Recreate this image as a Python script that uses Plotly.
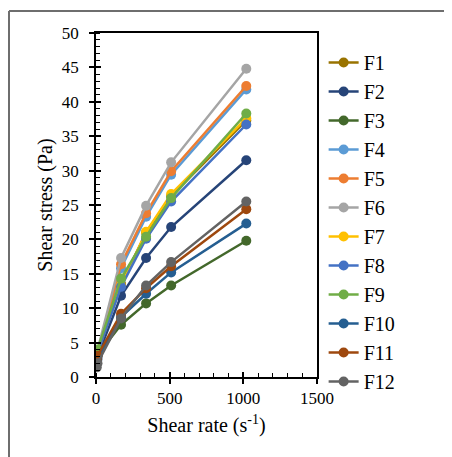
import plotly.graph_objects as go

shear_rate = [5.1, 10.2, 170, 340, 510, 1020]

series_names = ["F1", "F2", "F3", "F4", "F5", "F6", "F7", "F8", "F9", "F10", "F11", "F12"]

F1 = [2.9, 3.4, 13.5, 21.0, 26.3, 37.3]
F2 = [2.4, 3.0, 11.8, 17.3, 21.8, 31.5]
F3 = [2.6, 3.2, 7.6, 10.7, 13.3, 19.8]
F4 = [3.0, 3.6, 15.8, 23.3, 29.4, 41.8]
F5 = [2.8, 3.5, 16.4, 23.8, 29.9, 42.3]
F6 = [3.2, 3.9, 17.3, 24.9, 31.2, 44.8]
F7 = [3.0, 3.6, 13.3, 21.1, 26.6, 37.6]
F8 = [2.9, 3.5, 13.1, 20.1, 25.5, 36.7]
F9 = [3.3, 4.0, 14.3, 20.4, 26.0, 38.3]
F10 = [2.0, 2.6, 8.7, 12.1, 15.2, 22.3]
F11 = [2.5, 3.1, 9.2, 12.9, 16.1, 24.4]
F12 = [1.4, 2.0, 8.5, 13.3, 16.7, 25.5]

series_values = [F1, F2, F3, F4, F5, F6, F7, F8, F9, F10, F11, F12]

colors = ["#997300", "#264478", "#43682B", "#5B9BD5", "#ED7D31", "#A5A5A5",
          "#FFC000", "#4472C4", "#70AD47", "#255E91", "#9E480E", "#636363"]

x_ticks = [0, 500, 1000, 1500]
y_ticks = [0, 5, 10, 15, 20, 25, 30, 35, 40, 45, 50]

FONT = "Liberation Serif"

fig = go.Figure()
for i, (name, vals) in enumerate(zip(series_names, series_values)):
    fig.add_trace(go.Scatter(
        x=shear_rate, y=vals, name=name, mode="lines+markers",
        line=dict(color=colors[i], width=2.5),
        marker=dict(color=colors[i], size=10),
    ))

# dummy trace for overlay axes (inside half of crossing major ticks)
fig.add_trace(go.Scatter(x=[None], y=[None], xaxis="x2", yaxis="y2",
                         showlegend=False, hoverinfo="skip", mode="lines"))

# page body has an 8px margin: figure occupies window from (8, 8)
OFF = 8
W, H = 452 - OFF, 457 - OFF
L, R, T, B = 96 - OFF, 452 - 317, 33 - OFF, 457 - 377
pw = W - L - R
ph = H - T - B

fig.update_layout(
    width=W, height=H,
    margin=dict(l=L, r=R, t=T, b=B, autoexpand=False),
    paper_bgcolor="white", plot_bgcolor="white",
    font=dict(family=FONT, color="#000000"),
    showlegend=True,
    legend=dict(
        x=1.03, xanchor="left", y=1.0 - (35 - T) / ph, yanchor="top",
        font=dict(family=FONT, size=20, color="#000000"),
        traceorder="normal", itemwidth=30, bgcolor="rgba(0,0,0,0)",
        maxheight=440,
    ),
    xaxis=dict(
        range=[0, 1500], tickvals=x_ticks, ticks="outside", ticklen=5, tickwidth=1.5,
        tickcolor="#000000", showline=True, linecolor="#000000", linewidth=1.5,
        mirror=True, showgrid=False, zeroline=False,
        tickfont=dict(family=FONT, size=17, color="#000000"),
        minor=dict(dtick=100, ticks="inside", ticklen=4, tickwidth=1.2, tickcolor="#000000", showgrid=False),
        title=dict(text="Shear rate (s<sup>-1</sup>)", font=dict(family=FONT, size=20, color="#000000"), standoff=11),
        automargin=False,
    ),
    yaxis=dict(
        range=[0, 50], tickvals=y_ticks, ticks="outside", ticklen=5, tickwidth=1.5,
        tickcolor="#000000", showline=True, linecolor="#000000", linewidth=1.5,
        mirror=True, showgrid=False, zeroline=False, ticklabelstandoff=7,
        tickfont=dict(family=FONT, size=17, color="#000000"),
        minor=dict(dtick=1, ticks="inside", ticklen=4, tickwidth=1.2, tickcolor="#000000", showgrid=False),
        title=dict(text="Shear stress (Pa)", font=dict(family=FONT, size=20, color="#000000"), standoff=4),
        automargin=False,
    ),
    xaxis2=dict(range=[0, 1500], overlaying="x", anchor="y", side="bottom",
                tickvals=x_ticks, ticks="inside", ticklen=5, tickwidth=1.5, tickcolor="#000000",
                showticklabels=False, showline=False, showgrid=False, zeroline=False),
    yaxis2=dict(range=[0, 50], overlaying="y", anchor="x", side="left",
                tickvals=y_ticks, ticks="inside", ticklen=5, tickwidth=1.5, tickcolor="#000000",
                showticklabels=False, showline=False, showgrid=False, zeroline=False),
)

# outer (cropped) frame of the figure
fx0 = (9 - OFF - L) / pw
fy0 = 1 + (T - (11 - OFF)) / ph
fx1 = (W + 5 - L) / pw
fyb = -(B + 5) / ph
fig.add_shape(type="line", xref="paper", yref="paper", x0=fx0, y0=fy0, x1=fx1, y1=fy0,
              line=dict(color="#6E6E6E", width=2))
fig.add_shape(type="line", xref="paper", yref="paper", x0=fx0, y0=fy0, x1=fx0, y1=fyb,
              line=dict(color="#6E6E6E", width=2))

fig.write_html("out.html")
